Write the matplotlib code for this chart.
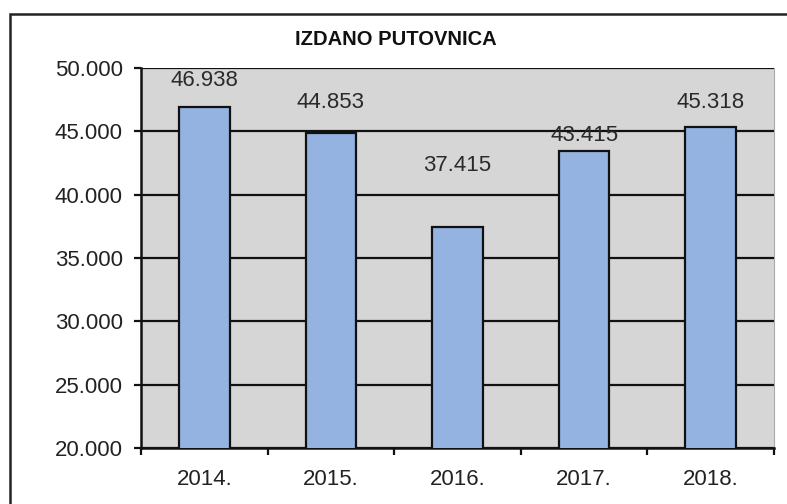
import numpy as np
import matplotlib.pyplot as plt
from matplotlib.patches import Rectangle
from matplotlib.ticker import FuncFormatter

plt.rcParams["font.family"] = ["Liberation Sans", "DejaVu Sans"]

# Podaci
godine = ["2014.", "2015.", "2016.", "2017.", "2018."]
izdano = [46938, 44853, 37415, 43415, 45318]

# pomak oznaka iznad stupaca (u pikselima), kao u originalu
pomak_oznake = [26, 31, 62, 16, 25]

def tocka(v, pos=None):
    return f"{int(v):,}".replace(",", ".")

fig = plt.figure(figsize=(7.87, 5.04), dpi=100)
fig.patch.set_facecolor("white")

# okvir oko grafikona (desni i donji rub izlaze iz slike)
fig.add_artist(Rectangle((10 / 787, -20 / 504), 800 / 787, 510 / 504,
                         transform=fig.transFigure, fill=False,
                         edgecolor="#222222", linewidth=1.8))

ax = fig.add_axes([141 / 787, 56 / 504, 633 / 787, 380 / 504])
ax.set_facecolor("#d6d6d6")

x = np.arange(len(godine))
ax.bar(x, izdano, width=0.4, color="#95b3e0", edgecolor="#111111",
       linewidth=1.6, zorder=3)

for xi, v, p in zip(x, izdano, pomak_oznake):
    ax.annotate(tocka(v), (xi, v), xytext=(0, p * 0.72), textcoords="offset points",
                ha="center", va="center", fontsize=16, color="#2a2a2a", zorder=4)

ax.set_xlim(-0.5, len(godine) - 0.5)
ax.set_ylim(20000, 50000)
ax.set_yticks(np.arange(20000, 50001, 5000))
ax.yaxis.set_major_formatter(FuncFormatter(tocka))
ax.grid(axis="y", color="#111111", linewidth=1.6, zorder=1)

ax.set_xticks(x)
ax.set_xticklabels(godine)
ax.set_xticks(np.arange(-0.5, len(godine)), minor=True)
ax.tick_params(axis="x", which="major", length=0, labelsize=16, pad=15,
               colors="#222222")
ax.tick_params(axis="x", which="minor", length=5, width=1.6, direction="out",
               color="#111111")
ax.tick_params(axis="y", length=5, width=1.6, labelsize=16, pad=8,
               colors="#222222", color="#111111")

ax.spines["top"].set_visible(False)
ax.spines["right"].set_color("#aaaaaa")
ax.spines["right"].set_linewidth(0.8)
for side in ["left", "bottom"]:
    ax.spines[side].set_linewidth(1.8)
    ax.spines[side].set_color("#111111")

fig.text(396 / 787, 1 - 40 / 504, "IZDANO PUTOVNICA", ha="center", va="center",
         fontsize=14.5, fontweight="bold", color="#111111")

fig.savefig("out.png", dpi=100)
